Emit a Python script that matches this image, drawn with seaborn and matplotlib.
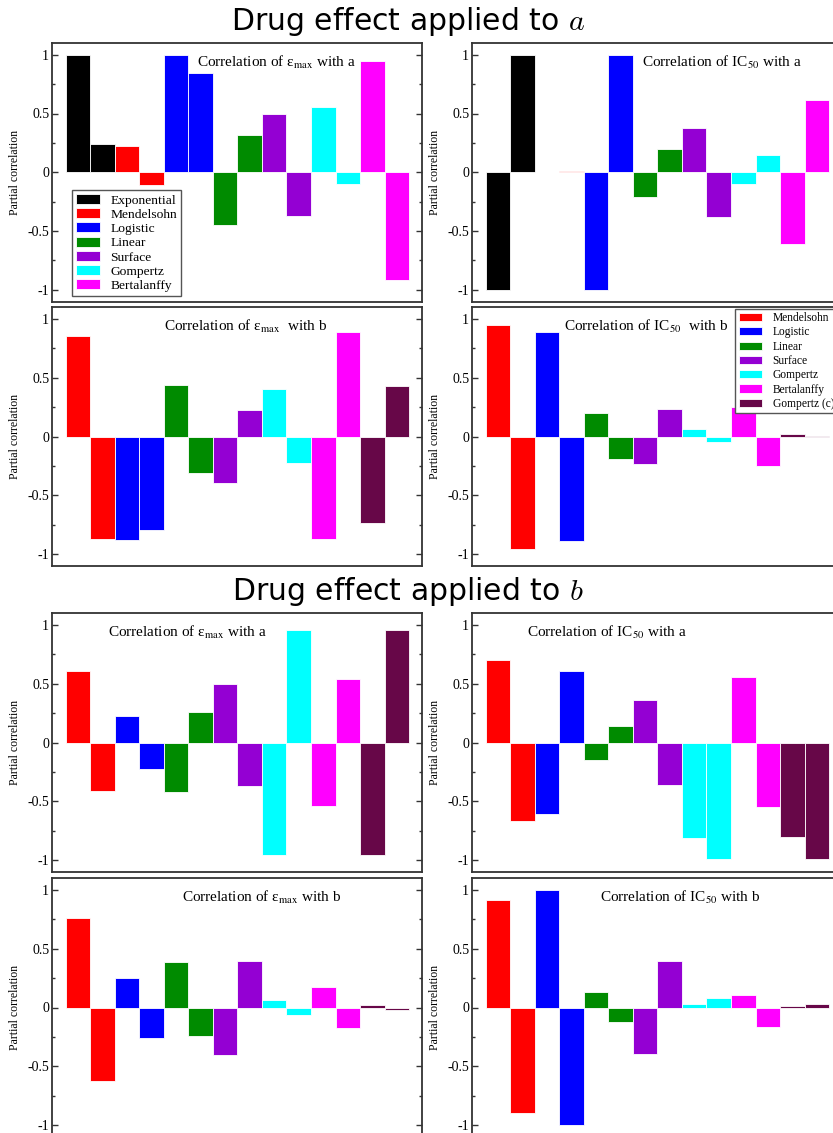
import numpy as np
import pandas as pd
import matplotlib
matplotlib.use("Agg")
import matplotlib.pyplot as plt
from matplotlib.ticker import MultipleLocator
import seaborn as sns

# model of each bar (two bars per model)
models_top = ["Exponential", "Exponential", "Mendelsohn", "Mendelsohn",
              "Logistic", "Logistic", "Linear", "Linear", "Surface", "Surface",
              "Gompertz", "Gompertz", "Bertalanffy", "Bertalanffy"]
models_rest = ["Mendelsohn", "Mendelsohn", "Logistic", "Logistic",
               "Linear", "Linear", "Surface", "Surface", "Gompertz", "Gompertz",
               "Bertalanffy", "Bertalanffy", "Gompertz (c)", "Gompertz (c)"]

# drug effect applied to a
emax_a_drug_a = [1.0, 0.244, 0.227, -0.105, 1.0, 0.843, -0.448, 0.315, 0.5, -0.374, 0.556, -0.102, 0.945, -0.919]
ic50_a_drug_a = [-1.0, 1.0, 0.004, 0.01, -1.0, 1.0, -0.21, 0.199, 0.38, -0.38, -0.102, 0.15, -0.613, 0.618]
emax_b_drug_a = [0.856, -0.873, -0.881, -0.799, 0.436, -0.309, -0.394, 0.229, 0.405, -0.227, -0.873, 0.89, -0.737, 0.43]
ic50_b_drug_a = [0.949, -0.955, 0.887, -0.887, 0.204, -0.195, -0.232, 0.235, 0.06, -0.045, 0.252, -0.249, 0.023, 0.005]

# drug effect applied to b
emax_a_drug_b = [0.612, -0.41, 0.227, -0.228, -0.42, 0.258, 0.496, -0.374, -0.958, 0.955, -0.538, 0.541, -0.958, 0.955]
ic50_a_drug_b = [0.70, -0.666, -0.612, 0.606, -0.153, 0.144, 0.363, -0.363, -0.813, -0.994, 0.555, -0.552, -0.805, -0.994]
emax_b_drug_b = [0.764, -0.625, 0.25, -0.256, 0.386, -0.239, -0.40, 0.395, 0.06, -0.06, 0.176, -0.176, 0.023, -0.023]
ic50_b_drug_b = [0.912, -0.898, 1.0, -1.0, 0.131, -0.125, -0.395, 0.395, 0.034, 0.077, 0.108, -0.165, 0.011, 0.034]

palette = {"Exponential": "#000000", "Mendelsohn": "#FF0000", "Logistic": "#0000FF",
           "Linear": "#008B00", "Surface": "#9400D3", "Gompertz": "#00FFFF",
           "Bertalanffy": "#FF00FF", "Gompertz (c)": "#670748"}

ytick_vals = [-1, -0.5, 0, 0.5, 1]
ytick_text = ["-1", "-0.5", "0", "0.5", "1"]

sns.set_style("ticks")
plt.rcParams["font.family"] = ["Liberation Serif", "DejaVu Serif"]
plt.rcParams["text.color"] = "black"
plt.rcParams["axes.labelcolor"] = "black"
plt.rcParams["ytick.color"] = "black"

W, H = 833, 1133
fig = plt.figure(figsize=(W / 100, H / 100), dpi=100)

AW, AH = 370, 258.5


def make_axes(left, top):
    return fig.add_axes([left / W, (H - top - AH) / H, AW / W, AH / H])


panels = [
    (52, 43, emax_a_drug_a, models_top, r"Correlation of ε$_{\mathrm{max}}$ with a", 0.392, "legend1"),
    (472, 43, ic50_a_drug_a, models_top, r"Correlation of IC$_{\mathrm{50}}$ with a", 0.459, None),
    (52, 307.25, emax_b_drug_a, models_rest, r"Correlation of ε$_{\mathrm{max}}$  with b", 0.303, None),
    (472, 307.25, ic50_b_drug_a, models_rest, r"Correlation of IC$_{\mathrm{50}}$  with b", 0.249, "legend2"),
    (52, 613.25, emax_a_drug_b, models_rest, r"Correlation of ε$_{\mathrm{max}}$ with a", 0.151, None),
    (472, 613.25, ic50_a_drug_b, models_rest, r"Correlation of IC$_{\mathrm{50}}$ with a", 0.149, None),
    (52, 878.25, emax_b_drug_b, models_rest, r"Correlation of ε$_{\mathrm{max}}$ with b", 0.351, None),
    (472, 878.25, ic50_b_drug_b, models_rest, r"Correlation of IC$_{\mathrm{50}}$ with b", 0.346, None),
]

for left, top, vals, models, title, tx, leg in panels:
    ax = make_axes(left, top)
    df = pd.DataFrame({"bar": list(range(len(vals))), "value": vals, "model": models})
    order = list(dict.fromkeys(models))
    sns.barplot(data=df, x="bar", y="value", hue="model", hue_order=order,
                palette=palette, saturation=1, dodge=False, width=1,
                edgecolor="white", linewidth=0.6, legend=leg is not None, ax=ax)
    ax.set_xlim(-1.07, 14.03)
    ax.set_ylim(-1.1, 1.1)
    ax.set_xticks([])
    ax.set_xlabel("")
    ax.set_yticks(ytick_vals)
    ax.set_yticklabels(ytick_text)
    ax.yaxis.set_minor_locator(MultipleLocator(0.25))
    ax.tick_params(axis="y", which="both", direction="in", left=True, right=True,
                   labelsize=10, pad=2, width=1, color="#333333", labelcolor="black")
    ax.tick_params(axis="y", which="major", length=4.5)
    ax.tick_params(axis="y", which="minor", length=2.5)
    for sp in ax.spines.values():
        sp.set_color("#333333")
        sp.set_linewidth(1.3)
    ax.set_ylabel("Partial correlation", fontsize=8.5)
    ax.yaxis.set_label_coords(-0.084, 0.5)
    ax.text(tx, 0.909, title, transform=ax.transAxes, ha="left", va="baseline",
            fontsize=11, math_fontfamily="stix")

    if leg == "legend1":
        sns.move_legend(ax, "lower left", bbox_to_anchor=(0.054, 0.021), borderaxespad=0,
                        title=None, fontsize=9.7, frameon=True, fancybox=False,
                        edgecolor="#555555", framealpha=1, handlelength=1.75,
                        handleheight=0.75, labelspacing=0.12, handletextpad=0.8,
                        borderpad=0.3)
    elif leg == "legend2":
        sns.move_legend(ax, "upper left", bbox_to_anchor=(0.711, 0.995), borderaxespad=0,
                        title=None, fontsize=8.3, frameon=True, fancybox=False,
                        edgecolor="#555555", framealpha=1, handlelength=2.0,
                        handleheight=0.7, labelspacing=0.2, handletextpad=0.95,
                        borderpad=0.3)

fig.text(408 / W, 1 - 22 / H, "Drug effect applied to $a$", ha="center", va="center",
         fontsize=21.5, color="black", family="DejaVu Sans", math_fontfamily="cm")
fig.text(408 / W, 1 - 592 / H, "Drug effect applied to $b$", ha="center", va="center",
         fontsize=21.5, color="black", family="DejaVu Sans", math_fontfamily="cm")

fig.savefig("out.png", dpi=100)
